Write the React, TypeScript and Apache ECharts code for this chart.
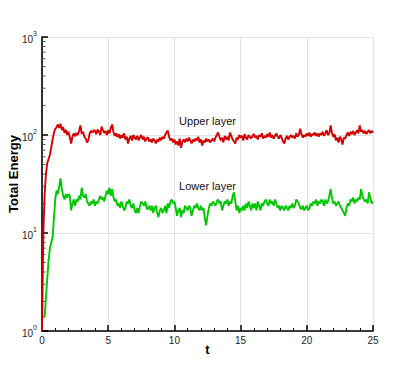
import React, { useEffect, useRef } from "react";
import * as echarts from "echarts";

// time step between samples (t axis)
const T_STEP = 0.1;

// Total energy of the upper layer, sampled every 0.1 in t (0 .. 25)
const upperLayer = [
  1, 10, 25, 40, 52, 57, 63, 75, 90, 105,
  115, 120, 128, 118, 130, 112, 120, 105, 113, 100,
  108, 95, 82, 96, 104, 97, 105, 100, 110, 125,
  103, 108, 96, 92, 84, 88, 104, 110, 106, 112,
  110, 102, 114, 108, 100, 122, 112, 105, 110, 100,
  112, 104, 118, 128, 106, 98, 104, 95, 102, 92,
  100, 94, 104, 90, 96, 82, 92, 98, 88, 100,
  94, 90, 98, 88, 95, 100, 90, 96, 86, 92,
  95, 86, 90, 84, 92, 88, 82, 90, 86, 94,
  88, 96, 92, 100, 106, 111, 96, 88, 92, 84,
  90, 80, 86, 78, 92, 74, 85, 90, 84, 92,
  86, 94, 88, 82, 90, 86, 92, 88, 96, 84,
  90, 78, 88, 84, 92, 86, 90, 84, 88, 92,
  86, 94, 100, 106, 96, 88, 94, 84, 98, 90,
  96, 88, 106, 98, 90, 86, 82, 94, 90, 100,
  94, 98, 88, 102, 94, 90, 100, 96, 92, 98,
  102, 94, 98, 90, 100, 96, 104, 92, 98, 94,
  102, 96, 106, 94, 100, 92, 98, 104, 96, 92,
  100, 94, 86, 82, 92, 98, 90, 96, 100, 94,
  98, 92, 104, 96, 100, 116, 102, 94, 100, 96,
  104, 98, 106, 96, 102, 100, 106, 98, 104, 96,
  104, 100, 108, 98, 104, 112, 100, 104, 125, 106,
  96, 102, 88, 94, 84, 96, 90, 80, 94, 92,
  100, 106, 98, 108, 102, 110, 100, 106, 112, 104,
  125, 108, 112, 104, 110, 102, 108, 112, 104, 110,
  106,
];

// Total energy of the lower layer, sampled every 0.1 in t (0 .. 25)
const lowerLayer = [
  1.4, 1.4, 1.4, 2.2, 3.5, 5.3, 7.0, 8.0, 9.0, 14,
  22, 27, 25, 30, 36, 28, 24, 22, 25, 23,
  25, 24, 17, 20, 22, 19, 22, 21, 24, 22,
  29, 24, 23, 25, 21, 20, 19, 21, 20, 22,
  19, 21, 20, 22, 24, 22, 23, 21, 24, 27,
  25, 29, 24, 28, 23, 21, 22, 19, 20, 18,
  21, 19, 17, 18, 21, 20, 22, 19, 18, 20,
  17, 16, 18, 16, 19, 21, 20, 19, 21, 18,
  17.5, 19, 17, 19, 16, 18, 19, 16, 14.5, 17,
  18, 16, 17, 19, 16, 20, 18, 21, 22, 20,
  21, 18, 15, 17, 18, 14.5, 17, 16, 19, 18,
  17, 19, 18, 15, 17, 19, 18, 20, 18, 17,
  19, 17, 18, 14, 12, 15, 18, 20, 19, 21,
  20, 19, 21, 22, 20, 21, 17, 19, 21, 20,
  22, 19, 21, 20, 24, 26, 21, 17, 19, 16,
  18, 17, 19, 17, 20, 18, 21, 19, 17, 20,
  18, 20, 17, 21, 19, 17, 20, 19, 21, 22,
  20, 19, 22, 20, 21, 19, 22, 20, 18, 19,
  17, 19, 18, 17, 19, 18, 17, 19, 18, 20,
  18, 19, 22, 21, 20, 18, 17.5, 19, 17, 18,
  19, 17, 18, 20, 19, 21, 20, 22, 19, 21,
  20, 22, 21, 19, 22, 20, 21, 24, 28, 23,
  20, 21, 19, 20, 21, 19, 18, 17, 16, 15,
  18, 20, 19, 22, 21, 23, 20, 22, 21, 23,
  22, 28, 24, 22, 21, 22, 20, 26, 23, 20,
  21,
];

// minor log ticks on the energy axis
const minorEnergyTicks = [
  2, 3, 4, 5, 6, 7, 8, 9,
  20, 30, 40, 50, 60, 70, 80, 90,
  200, 300, 400, 500, 600, 700, 800, 900,
];

// annotation anchors [t, energy]
const upperLabelAt = [12.5, 138];
const lowerLabelAt = [12.5, 30.5];

const FONT = "'Liberation Sans', Arial, Helvetica, sans-serif";

export default function App() {
  const ref = useRef<HTMLDivElement>(null);

  useEffect(() => {
    if (!ref.current) return;
    const chart = echarts.init(ref.current, undefined, { renderer: "svg" });

    const toPairs = (arr: number[]) => arr.map((v, i) => [+(i * T_STEP).toFixed(1), v]);

    const makeLabelPoint = (at: number[], text: string) => ({
      symbol: "circle",
      symbolSize: 0,
      silent: true,
      label: {
        show: true,
        position: "inside",
        color: "#111",
        fontSize: 11,
        fontFamily: FONT,
        formatter: text,
      },
      data: [{ coord: at }],
    });

    chart.setOption({
      animation: false,
      textStyle: { fontFamily: FONT },
      grid: {
        left: 42,
        right: 42,
        top: 37,
        bottom: 38,
        containLabel: false,
        outerBoundsMode: "none",
      },
      xAxis: {
        type: "value",
        min: 0,
        max: 25,
        interval: 5,
        name: "t",
        nameLocation: "middle",
        nameGap: 12,
        nameMoveOverlap: false,
        nameTextStyle: { fontWeight: "bold", fontSize: 13, color: "#000", fontFamily: FONT },
        axisLine: { show: true, onZero: false, lineStyle: { color: "#000", width: 1.6 } },
        axisTick: { show: true, inside: true, length: 6, lineStyle: { color: "#000", width: 1.5 } },
        minorTick: { show: true, splitNumber: 5, length: 3, lineStyle: { color: "#000", width: 1 } },
        axisLabel: { fontSize: 10, color: "#222", margin: 4, fontFamily: FONT },
        splitLine: { show: true, lineStyle: { color: "#e2e2e2", width: 1 } },
        minorSplitLine: { show: false },
      },
      yAxis: {
        type: "log",
        logBase: 10,
        min: 1,
        max: 1000,
        name: "Total Energy",
        nameLocation: "middle",
        nameGap: 22,
        nameMoveOverlap: false,
        nameTextStyle: {
          fontWeight: "bold",
          fontSize: 13,
          color: "#000",
          fontFamily: FONT,
          padding: [0, 0, 0, 20],
        },
        axisLine: { show: true, onZero: false, lineStyle: { color: "#000", width: 1.6 } },
        axisTick: { show: true, inside: true, length: 6, lineStyle: { color: "#000", width: 1.5 } },
        axisLabel: {
          margin: 5,
          color: "#222",
          formatter: (v: number) => `{b|10}{s|${Math.round(Math.log10(v))}}`,
          rich: {
            b: { fontSize: 10, color: "#222", fontFamily: FONT, lineHeight: 14, verticalAlign: "bottom" },
            s: { fontSize: 7, color: "#222", fontFamily: FONT, lineHeight: 14, verticalAlign: "top" },
          },
        },
        splitLine: { show: true, lineStyle: { color: "#e2e2e2", width: 1 } },
      },
      series: [
        {
          name: "Upper layer",
          type: "line",
          data: toPairs(upperLayer),
          showSymbol: false,
          symbol: "none",
          lineStyle: { color: "#d40000", width: 1.9 },
          itemStyle: { color: "#d40000" },
          z: 3,
          markPoint: makeLabelPoint(upperLabelAt, "Upper layer"),
        },
        {
          name: "Lower layer",
          type: "line",
          data: toPairs(lowerLayer),
          showSymbol: false,
          symbol: "none",
          lineStyle: { color: "#00c800", width: 1.9 },
          itemStyle: { color: "#00c800" },
          z: 2,
          markPoint: makeLabelPoint(lowerLabelAt, "Lower layer"),
        },
        {
          name: "minor ticks",
          type: "custom",
          silent: true,
          clip: false,
          z: 1,
          data: minorEnergyTicks.map((v) => [0, v]),
          renderItem: (_params: any, api: any) => {
            const p = api.coord([0, api.value(1)]);
            return {
              type: "line",
              shape: { x1: p[0], y1: p[1], x2: p[0] + 3.5, y2: p[1] },
              style: { stroke: "#555", lineWidth: 1 },
            };
          },
        },
      ],
    });

    return () => chart.dispose();
  }, []);

  return (
    <div
      ref={ref}
      style={{ position: "fixed", left: 0, top: 0, width: 415, height: 369, background: "#fff" }}
    />
  );
}
